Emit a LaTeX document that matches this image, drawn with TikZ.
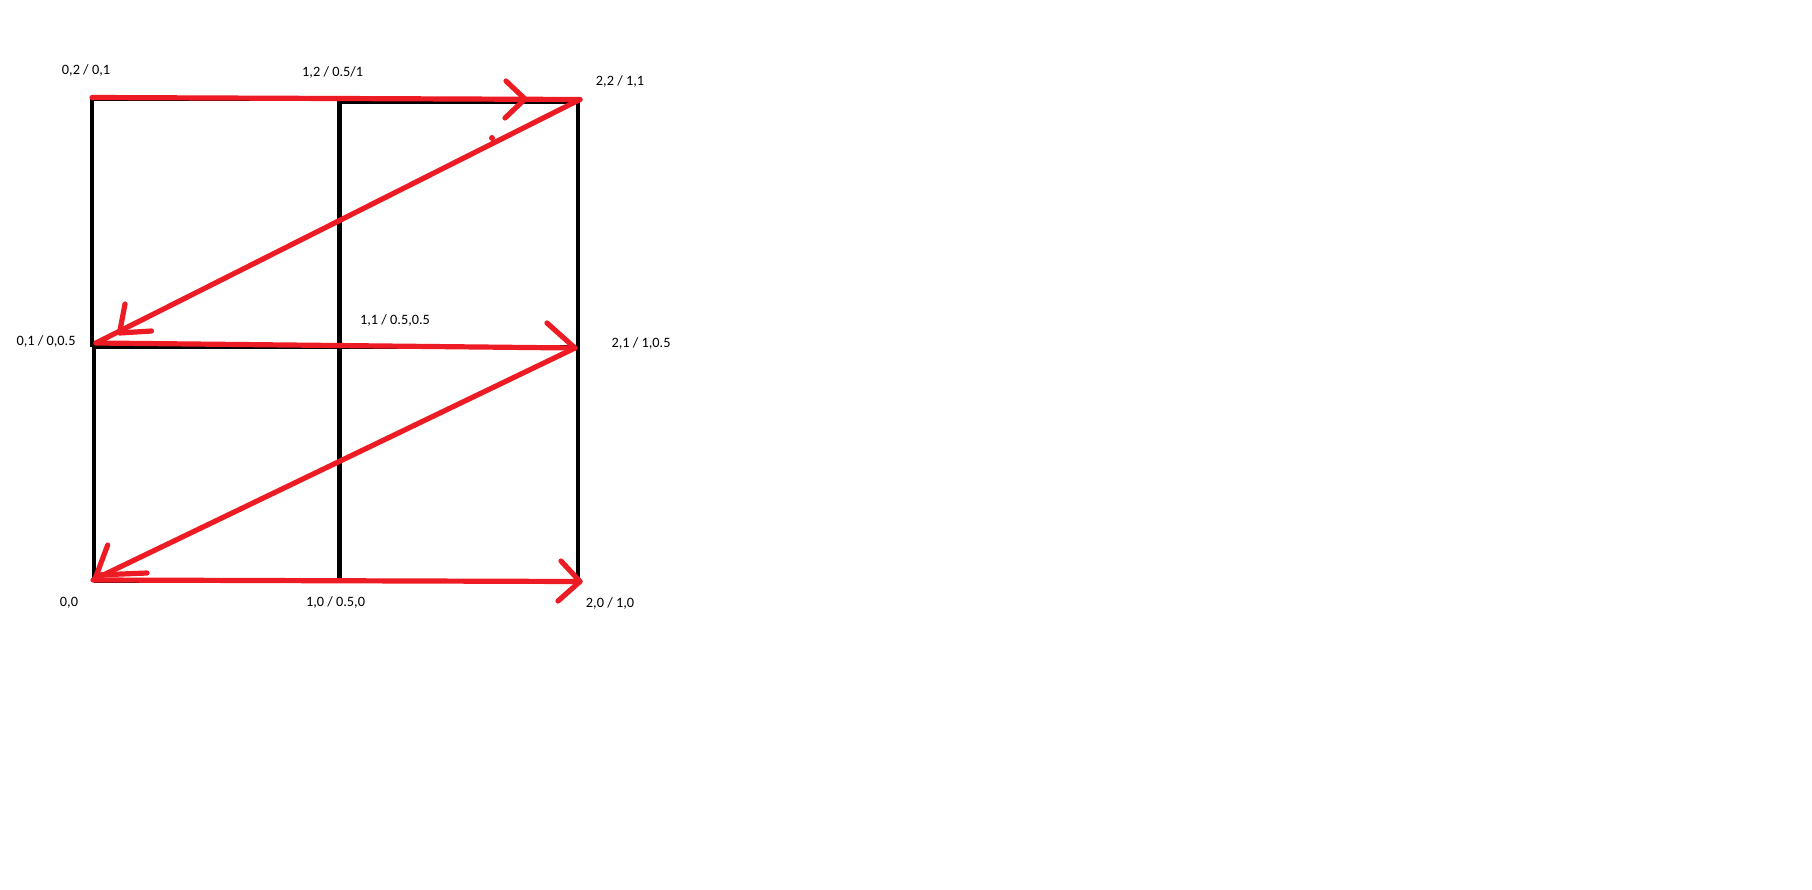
\documentclass[tikz,border=0pt]{standalone}
\usepackage{fontspec}
\setmainfont{Carlito}
\definecolor{paintred}{HTML}{ED1C24}
\tikzset{
  lbl/.style={font=\fontsize{14.3}{16}\selectfont, inner sep=0pt, anchor=base, text=black},
  gridthin/.style={draw=black, line width=3.3pt},
  gridthick/.style={draw=black, line width=4.5pt},
  redpen/.style={draw=paintred, line width=5.2pt, line cap=round, line join=round},
}
\begin{document}
\begin{tikzpicture}[x=1pt, y=-1pt]
\useasboundingbox (0,0) rectangle (1812,889);
\fill[white] (0,0) rectangle (1812,889);
% grid points
\coordinate (tl) at (92,99);
\coordinate (tm) at (339.5,101.5);
\coordinate (tr) at (578,101.5);
\coordinate (ml) at (92,347);
\coordinate (mlb) at (94,347);
\coordinate (mm) at (339.5,347);
\coordinate (mr) at (578,347);
\coordinate (bl) at (94,581);
\coordinate (bm) at (339.5,581);
\coordinate (br) at (578,581);
\coordinate (tmt) at (339.5,99);
% black grid
\draw[gridthin] (tl) -- (ml);
\draw[gridthin] (tl) -- (tmt);
\draw[gridthick] (tm) -- (tr);
\draw[gridthick] (mlb) -- (bl);
\draw[gridthick] (339.5,99.5) -- (bm);
\draw[gridthick] (578,99.5) -- (br);
\draw[gridthick] (ml) -- (mr);
\draw[gridthick] (bl) -- (br);
% red path points
\coordinate (r0) at (92,97.5);
\coordinate (r1) at (580,99.5);
\coordinate (h1) at (525,99);
\coordinate (h1a) at (506,81);
\coordinate (h1b) at (505,118);
\coordinate (r2) at (96,343);
\coordinate (h2) at (119.5,333);
\coordinate (h2a) at (125,304);
\coordinate (h2b) at (151.5,331);
\coordinate (r3) at (575,348);
\coordinate (h3a) at (547,323);
\coordinate (r4) at (95,579);
\coordinate (h4) at (97,575);
\coordinate (h4a) at (107.7,545);
\coordinate (h4b) at (147,573);
\coordinate (r5) at (93,580);
\coordinate (r6) at (580,581.5);
\coordinate (h6a) at (561,561);
\coordinate (h6b) at (558,601);
% red strokes
\draw[redpen] (r0) -- (r1);
\draw[redpen] (h1a) -- (h1) -- (h1b);
\draw[redpen] (r1) -- (r2);
\draw[redpen] (h2a) -- (h2) -- (h2b);
\draw[redpen] (r2) -- (r3);
\draw[redpen] (h3a) -- (r3);
\draw[redpen] (r3) -- (r4);
\draw[redpen] (h4a) -- (r4);
\draw[redpen] (h4) -- (h4b);
\draw[redpen] (r5) -- (r6);
\draw[redpen] (h6a) -- (r6) -- (h6b);
\fill[paintred] (492,138) circle (3);
% labels
\node[lbl] (l02) at (86,74) {0,2 / 0,1};
\node[lbl] (l12) at (332.7,76) {1,2 / 0.5/1};
\node[lbl] (l22) at (620,85.5) {2,2 / 1,1};
\node[lbl] (l01) at (46,345.5) {0,1 / 0,0.5};
\node[lbl] (l11) at (395,324) {1,1 / 0.5,0.5};
\node[lbl] (l21) at (641,347) {2,1 / 1,0.5};
\node[lbl] (l00) at (69,606) {0,0};
\node[lbl] (l10) at (335.5,606.5) {1,0 / 0.5,0};
\node[lbl] (l20) at (610,607) {2,0 / 1,0};
\end{tikzpicture}
\end{document}
